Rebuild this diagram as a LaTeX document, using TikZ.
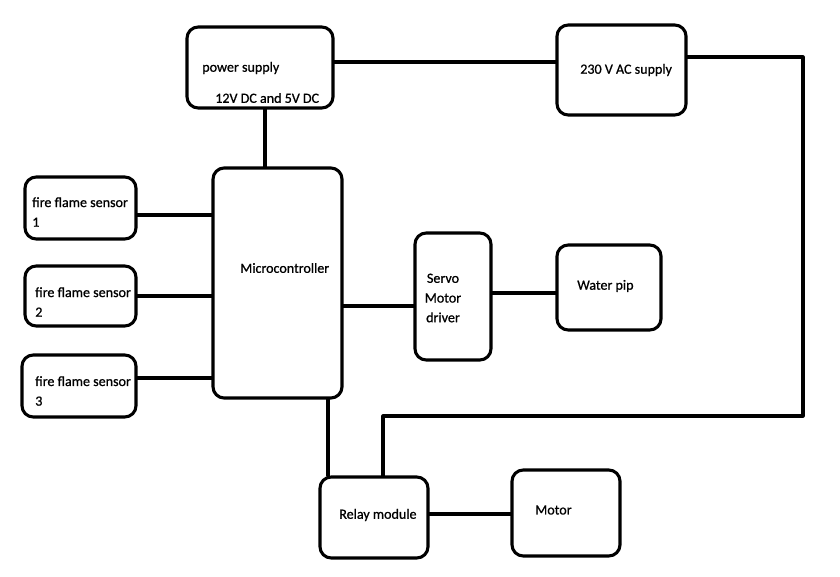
\documentclass[tikz,border=0pt]{standalone}
\usepackage{fontspec}
\setmainfont{Carlito}[FakeBold=0.8]
\begin{document}
\begin{tikzpicture}[x=0.025cm,y=-0.025cm,line join=round,line cap=round,
    font=\fontsize{10}{14}\selectfont,
    box/.style={draw,line width=2.2pt,rounded corners=8pt,inner sep=0pt},
    txt/.style={anchor=west,inner sep=0pt},
    wire/.style={line width=2.2pt}]
  \useasboundingbox (0,0) rectangle (840,577);
  % blocks
  \node[box,minimum width=3.65cm,minimum height=2.025cm] (PS) at (260,67.5) {};
  \node[box,minimum width=3.225cm,minimum height=2.25cm] (AC) at (621.5,70) {};
  \node[box,minimum width=3.225cm,minimum height=5.75cm] (MC) at (277.5,283) {};
  \node[box,minimum width=2.775cm,minimum height=1.55cm] (S1) at (80.5,208) {};
  \node[box,minimum width=2.775cm,minimum height=1.5cm] (S2) at (80.5,296) {};
  \node[box,minimum width=2.85cm,minimum height=1.55cm] (S3) at (79,386) {};
  \node[box,minimum width=1.9cm,minimum height=3.175cm] (SV) at (453,296.5) {};
  \node[box,minimum width=2.6cm,minimum height=2.125cm] (WP) at (609,287.5) {};
  \node[box,minimum width=2.7cm,minimum height=2.025cm] (RL) at (374,517.5) {};
  \node[box,minimum width=2.7cm,minimum height=2.15cm] (MT) at (566,513) {};
  % texts
  \node[txt] (tPS) at (202,68) {power supply};
  \node[txt] (tDC) at (215,98) {12V DC and 5V DC};
  \node[txt] (tAC) at (580,70) {230 V AC supply};
  \node[txt] (tMC) at (240,268) {Microcontroller};
  \node[txt,align=left] (tS1) at (32,212) {fire flame sensor\\1};
  \node[txt,align=left] (tS2) at (35,302) {fire flame sensor\\2};
  \node[txt,align=left] (tS3) at (35,391) {fire flame sensor\\3};
  \node[align=center] (tSV) at (443,298) {Servo\\Motor\\driver};
  \node[txt] (tWP) at (577,286) {Water pip};
  \node[txt] (tRL) at (339,515) {Relay module};
  \node[txt] (tMT) at (535,510) {Motor};
  % wires
  \path (803,57) coordinate (R1) (803,416) coordinate (R2) (383,416) coordinate (R3);
  \draw[wire] (PS.east |- 0,62) -- (AC.west |- 0,62);
  \draw[wire] (AC.east |- R1) -- (R1) -- (R2) -- (R3) -- (RL.north -| R3);
  \draw[wire] (PS.south -| 265,0) -- (MC.north -| 265,0);
  \foreach \s/\y in {S1/215,S2/296,S3/378}
    \draw[wire] (\s.east |- 0,\y) -- (MC.west |- 0,\y);
  \draw[wire] (MC.east |- 0,306) -- (SV.west |- 0,306);
  \draw[wire] (SV.east |- 0,293) -- (WP.west |- 0,293);
  \draw[wire] (MC.south -| 328,0) -- (RL.north -| 328,0);
  \draw[wire] (RL.east |- 0,514) -- (MT.west |- 0,514);
\end{tikzpicture}
\end{document}
